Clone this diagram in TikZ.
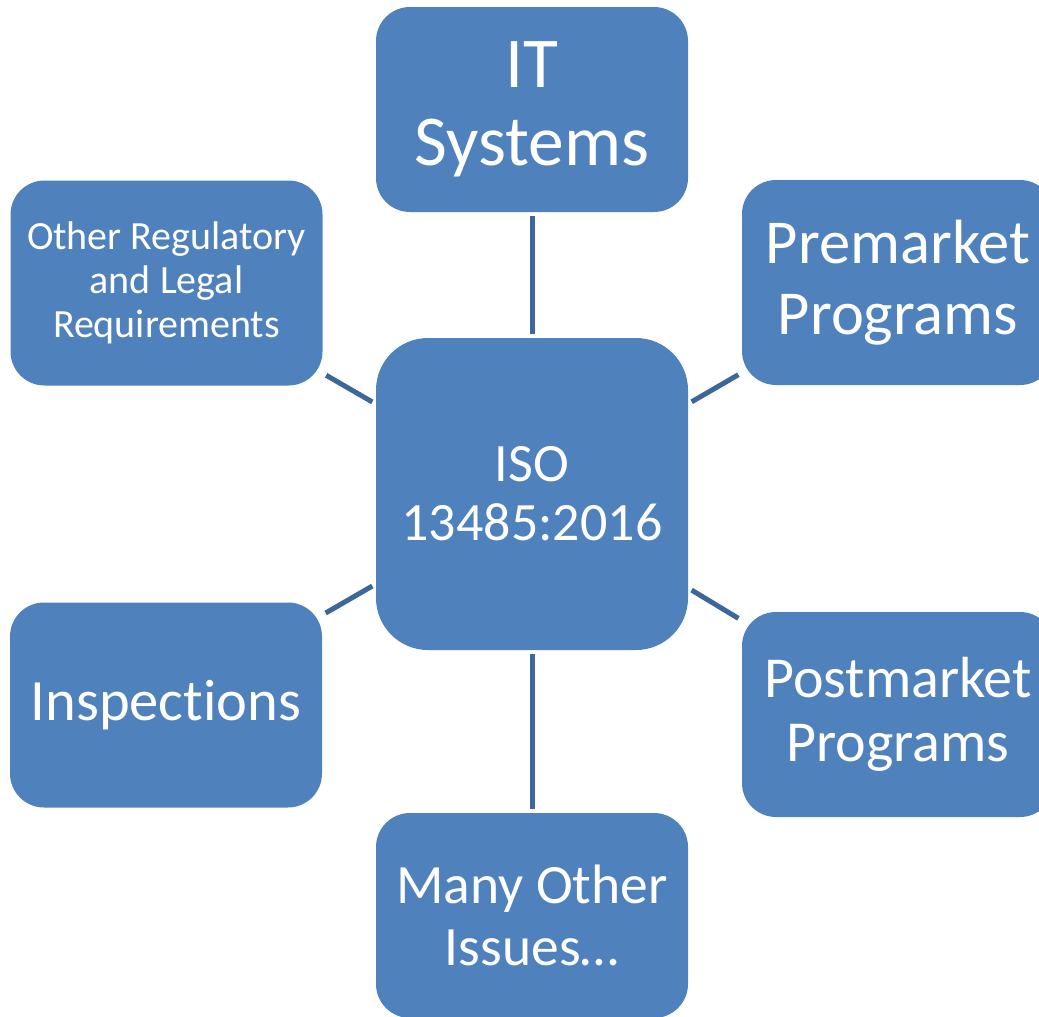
\documentclass[tikz,border=0pt]{standalone}
\usepackage{fontspec}
\setmainfont{Carlito}[Ligatures={NoCommon}]
\definecolor{boxblue}{HTML}{4F81BD}
\definecolor{linkblue}{HTML}{3C679B}
\tikzset{
  box/.style={rectangle, fill=boxblue, rounded corners=34pt, minimum width=312pt,
    minimum height=205pt, inner sep=0pt, text=white, align=center},
  hubbox/.style={box, rounded corners=52pt, minimum height=312pt},
  link/.style={draw=linkblue, line width=5pt, shorten <=4pt, shorten >=4pt}
}
\begin{document}
\begin{tikzpicture}[x=1pt,y=-1pt]
\useasboundingbox (0,0) rectangle (1039,1017);
\clip (0,0) rectangle (1039,1017);
\node[hubbox, font=\fontsize{54}{59}\selectfont] (hub) at (532,494) {ISO\\13485:2016};
\node[box, font=\fontsize{71.5}{78}\selectfont] (it) at (532,109.5) {IT\\Systems};
\node[box, font=\fontsize{62.5}{71}\selectfont] (pre) at (898,282.5) {Premarket\\Programs};
\node[box, font=\fontsize{40}{44}\selectfont] (reg) at (166.5,283) {Other Regulatory\\and Legal\\Requirements};
\node[box, font=\fontsize{58.5}{64}\selectfont] (insp) at (166,705) {Inspections};
\node[box, font=\fontsize{58}{64}\selectfont] (post) at (898,714.5) {Postmarket\\Programs};
\node[box, font=\fontsize{55.5}{62}\selectfont] (many) at (532,915.5) {Many Other\\Issues…};
\draw[link] (it) -- (hub);
\draw[link] (hub) -- (many);
\draw[link] (reg) -- (hub);
\draw[link] (hub) -- (pre);
\draw[link] (insp) -- (hub);
\draw[link] (hub) -- (post);
\end{tikzpicture}
\end{document}
